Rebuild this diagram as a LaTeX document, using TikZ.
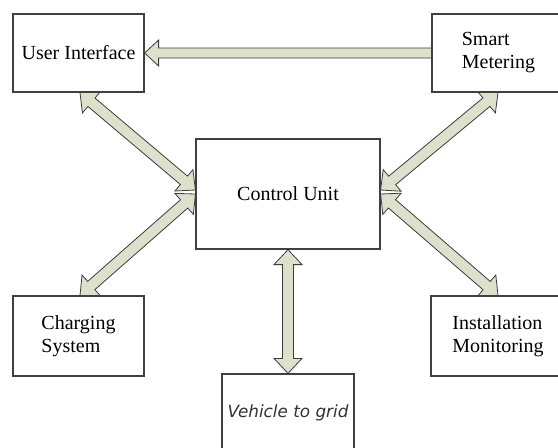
\documentclass[tikz,border=0pt]{standalone}
\usepackage{fontspec}
\setmainfont{Liberation Serif}
\newfontfamily\vfont{DejaVu Sans}
\usetikzlibrary{calc,backgrounds}
\definecolor{arrfill}{RGB}{221,224,203}
\definecolor{arrline}{RGB}{60,60,60}
\definecolor{boxline}{RGB}{64,64,64}
\tikzset{
  box/.style={draw=boxline, line width=1.2pt, fill=white, rectangle, inner sep=0pt,
    font=\fontsize{20}{23}\selectfont, align=left, text=black},
  fatarr/.style={draw=arrline, fill=arrfill, line width=0.8pt, line join=miter}
}
% double-headed block arrow between coordinates #1 and #2
\newcommand\dblarrow[2]{%
  \coordinate (fa1) at ($(#1)!15pt!(#2)$);
  \coordinate (fa2) at ($(#2)!15pt!(#1)$);
  \draw[fatarr] (#1) -- ($(fa1)!14pt!90:(#2)$) -- ($(fa1)!5.5pt!90:(#2)$)
    -- ($(fa2)!5.5pt!-90:(#1)$) -- ($(fa2)!14pt!-90:(#1)$) -- (#2)
    -- ($(fa2)!14pt!90:(#1)$) -- ($(fa2)!5.5pt!90:(#1)$)
    -- ($(fa1)!5.5pt!-90:(#2)$) -- ($(fa1)!14pt!-90:(#2)$) -- cycle;}
% single-headed block arrow from #1 to #2 (tip at #2)
\newcommand\sglarrow[2]{%
  \coordinate (fa2) at ($(#2)!14pt!(#1)$);
  \draw[fatarr] ($(#1)!5pt!90:(#2)$)
    -- ($(fa2)!5pt!-90:(#1)$) -- ($(fa2)!13pt!-90:(#1)$) -- (#2)
    -- ($(fa2)!13pt!90:(#1)$) -- ($(fa2)!5pt!90:(#1)$)
    -- ($(#1)!5pt!-90:(#2)$) -- cycle;}
\begin{document}
\begin{tikzpicture}[x=1pt,y=-1pt]
\useasboundingbox (0,0) rectangle (558,448);
\node[box, minimum width=131pt, minimum height=78pt] (ui) at (78.5,53) {User Interface};
\node[box, minimum width=133pt, minimum height=78pt] (sm) at (498.5,53) {Smart\\Metering};
\node[box, minimum width=184pt, minimum height=110pt] (cu) at (288,194) {Control Unit};
\node[box, minimum width=131pt, minimum height=80pt] (cs) at (78.5,336) {Charging\\System};
\node[box, minimum width=134pt, minimum height=80pt] (im) at (498,336) {Installation\\Monitoring};
\node[box, minimum width=132pt, minimum height=78pt, font=\vfont\itshape\fontsize{16.8}{20}\selectfont, text={rgb,255:red,50;green,50;blue,50}] (vg) at (288,413) {Vehicle to grid};
\begin{scope}[on background layer]
  \coordinate (cuL1) at ($(cu.west)+(0,-4)$);
  \coordinate (cuL2) at ($(cu.west)+(0,0)$);
  \coordinate (cuR1) at ($(cu.east)+(0,-4)$);
  \coordinate (cuR2) at ($(cu.east)+(0,0)$);
  \coordinate (uiB) at ($(ui.south)+(1.5,0)$);
  \coordinate (smB) at ($(sm.south)+(-0.5,0)$);
  \coordinate (csT) at ($(cs.north)+(1.5,0)$);
  \coordinate (imT) at (im.north);
  \sglarrow{sm.west}{ui.east}
  \dblarrow{uiB}{cuL1}
  \dblarrow{smB}{cuR1}
  \dblarrow{cuL2}{csT}
  \dblarrow{cuR2}{imT}
  \dblarrow{cu.south}{vg.north}
\end{scope}
\end{tikzpicture}
\end{document}
